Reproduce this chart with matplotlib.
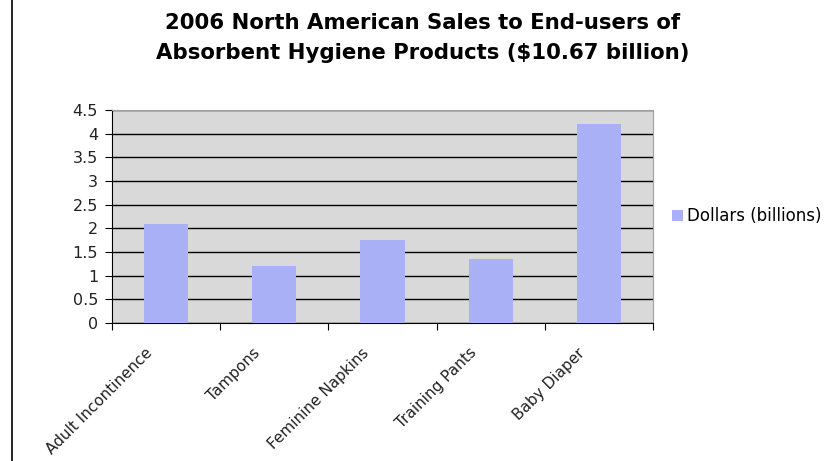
import numpy as np
import matplotlib
matplotlib.use("Agg")
import matplotlib.pyplot as plt
from matplotlib.lines import Line2D
from matplotlib.patches import Patch

categories = ["Adult Incontinence", "Tampons", "Feminine Napkins", "Training Pants", "Baby Diaper"]
dollars = [2.1, 1.2, 1.75, 1.35, 4.2]
yticks = [0, 0.5, 1, 1.5, 2, 2.5, 3, 3.5, 4, 4.5]
ytick_labels = ["0", "0.5", "1", "1.5", "2", "2.5", "3", "3.5", "4", "4.5"]
series_name = "Dollars (billions)"

bar_color = "#a9b0f5"
bg_color = "#d9d9d9"

fig = plt.figure(figsize=(8.24, 4.61), dpi=100)
ax = fig.add_axes([0.1359, 0.2993, 0.6566, 0.4621])
ax.set_facecolor(bg_color)

x = np.arange(len(categories))
ax.bar(x, dollars, width=0.41, color=bar_color, zorder=3)

ax.set_xlim(-0.5, len(categories) - 0.5)
ax.set_ylim(0, 4.5)
ax.set_yticks(yticks)
ax.set_yticklabels(ytick_labels, fontsize=11.5, color="#222222")
ax.yaxis.grid(True, color="black", linewidth=1.0, zorder=1)
ax.set_axisbelow(True)

# ticks sit between categories; rotated labels hang a bit left of centre
ax.set_xticks(np.arange(-0.5, len(categories)), minor=False)
ax.set_xticklabels([])
ax.set_xticks(x - 0.2, minor=True)
ax.set_xticklabels(categories, minor=True, rotation=45, ha="right", va="top",
                   rotation_mode="anchor", fontsize=11, color="#222222")
ax.tick_params(axis="x", which="minor", length=0, pad=16)
ax.tick_params(axis="x", which="major", length=5, color="black")
ax.tick_params(axis="y", length=5, color="black", pad=5)

for s in ["left", "bottom"]:
    ax.spines[s].set_color("black")
for s in ["top", "right"]:
    ax.spines[s].set_color("#a0a0a0")

fig.text(0.513, 0.972, "2006 North American Sales to End-users of\nAbsorbent Hygiene Products ($10.67 billion)",
         ha="center", va="top", fontsize=15.3, fontweight="bold", linespacing=1.6)

fig.legend(handles=[Patch(facecolor=bar_color, edgecolor="none", label=series_name)],
           loc="center left", bbox_to_anchor=(0.815, 0.531), frameon=False,
           fontsize=12, handlelength=0.7, handleheight=0.7, handletextpad=0.25,
           borderaxespad=0, borderpad=0)

fig.add_artist(Line2D([12 / 824, 12 / 824], [0, 1], color="black", linewidth=1.2))

fig.savefig("out.png", dpi=100)
